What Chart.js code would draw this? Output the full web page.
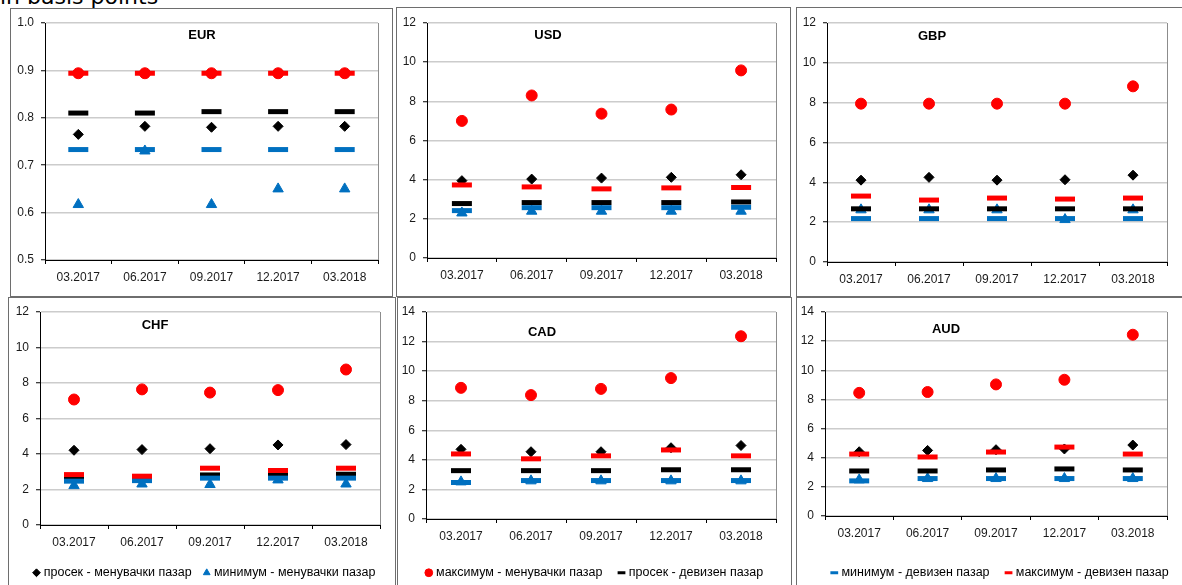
<!DOCTYPE html>
<html><head><meta charset="utf-8">
<script src="https://cdn.jsdelivr.net/npm/chart.js@4/dist/chart.umd.min.js"></script>
<style>
html,body{margin:0;padding:0;background:#fff;width:1182px;height:585px;overflow:hidden;position:relative;}
.box{position:absolute;border:1px solid #6e6e6e;box-sizing:border-box;}
canvas{position:absolute;}
.ptitle{position:absolute;font:bold 13px "Liberation Sans",Arial,sans-serif;color:#000;transform:translate(-50%,-50%);white-space:nowrap;}
#units{position:absolute;left:0;top:-14px;font:22px "DejaVu Sans",sans-serif;line-height:22px;color:#000;white-space:nowrap;}
</style></head><body>
<div id="units">in basis points</div>
<script>
// ---------- DATA ----------
const categories = ['03.2017','06.2017','09.2017','12.2017','03.2018'];
const seriesNames = ['просек - менувачки пазар','минимум - менувачки пазар','максимум - менувачки пазар',
                     'просек - девизен пазар','минимум - девизен пазар','максимум - девизен пазар'];

const eurAvgExch = [0.765, 0.782, 0.780, 0.782, 0.782];
const eurMinExch = [0.617, 0.730, 0.617, 0.650, 0.650];
const eurMaxExch = [0.894, 0.894, 0.894, 0.894, 0.894];
const eurAvgFx   = [0.810, 0.810, 0.813, 0.813, 0.813];
const eurMinFx   = [0.733, 0.733, 0.733, 0.733, 0.733];
const eurMaxFx   = [0.894, 0.894, 0.894, 0.894, 0.894];

const usdAvgExch = [3.95, 4.03, 4.08, 4.12, 4.25];
const usdMinExch = [2.30, 2.39, 2.39, 2.39, 2.39];
const usdMaxExch = [7.00, 8.30, 7.37, 7.58, 9.58];
const usdAvgFx   = [2.78, 2.83, 2.83, 2.83, 2.86];
const usdMinFx   = [2.42, 2.57, 2.57, 2.57, 2.59];
const usdMaxFx   = [3.73, 3.63, 3.53, 3.58, 3.60];

const gbpAvgExch = [4.11, 4.25, 4.11, 4.13, 4.36];
const gbpMinExch = [2.62, 2.62, 2.62, 2.13, 2.62];
const gbpMaxExch = [7.95, 7.95, 7.95, 7.95, 8.82];
const gbpAvgFx   = [2.67, 2.67, 2.67, 2.67, 2.67];
const gbpMinFx   = [2.18, 2.18, 2.18, 2.18, 2.18];
const gbpMaxFx   = [3.31, 3.11, 3.21, 3.16, 3.21];

const chfAvgExch = [4.21, 4.25, 4.30, 4.51, 4.53];
const chfMinExch = [2.22, 2.31, 2.28, 2.54, 2.31];
const chfMaxExch = [7.07, 7.64, 7.46, 7.60, 8.76];
const chfAvgFx   = [2.64, 2.62, 2.82, 2.82, 2.86];
const chfMinFx   = [2.47, 2.50, 2.64, 2.64, 2.64];
const chfMaxFx   = [2.84, 2.75, 3.20, 3.07, 3.20];

const cadAvgExch = [4.71, 4.55, 4.55, 4.82, 4.97];
const cadMinExch = [2.51, 2.58, 2.58, 2.58, 2.58];
const cadMaxExch = [8.87, 8.38, 8.80, 9.53, 12.36];
const cadAvgFx   = [3.27, 3.27, 3.27, 3.33, 3.33];
const cadMinFx   = [2.47, 2.60, 2.60, 2.60, 2.60];
const cadMaxFx   = [4.40, 4.07, 4.27, 4.67, 4.27];

const audAvgExch = [4.41, 4.50, 4.55, 4.60, 4.87];
const audMinExch = [2.48, 2.57, 2.57, 2.57, 2.57];
const audMaxExch = [8.45, 8.51, 9.03, 9.35, 12.44];
const audAvgFx   = [3.09, 3.09, 3.16, 3.23, 3.16];
const audMinFx   = [2.41, 2.57, 2.57, 2.57, 2.57];
const audMaxFx   = [4.25, 4.05, 4.39, 4.73, 4.25];

// ---------- STYLES / LAYOUT ----------
const styles = [
  {pointStyle:'rectRot',  color:'#000000', radius:5,   bw:1},
  {pointStyle:'triangle', color:'#0070C0', radius:6,   bw:1},
  {pointStyle:'circle',   color:'#FF0000', radius:5.5, bw:1},
  {pointStyle:'line',     color:'#000000', radius:10,  bw:5},
  {pointStyle:'line',     color:'#0070C0', radius:10,  bw:5},
  {pointStyle:'line',     color:'#FF0000', radius:10,  bw:5}
];

const panels = [
  {name:'EUR', series:[eurAvgExch,eurMinExch,eurMaxExch,eurAvgFx,eurMinFx,eurMaxFx], min:0.5, max:1.0, step:0.1, dec:1,
   frame:[10,8,383,289], canvas:[10,8,383,289], pad:{top:11,right:8}, yW:35, xH:37, legend:null, lp:10, shift:0, title:[202,34]},
  {name:'USD', series:[usdAvgExch,usdMinExch,usdMaxExch,usdAvgFx,usdMinFx,usdMaxFx], min:0, max:12, step:2, dec:0,
   frame:[396,7,395,290], canvas:[396,8,395,289], pad:{top:11,right:6}, yW:31, xH:39, legend:null, lp:10, shift:0, title:[548,34]},
  {name:'GBP', series:[gbpAvgExch,gbpMinExch,gbpMaxExch,gbpAvgFx,gbpMinFx,gbpMaxFx], min:0, max:12, step:2, dec:0,
   frame:[796,7,390,290], canvas:[796,8,386,289], pad:{top:11,right:2}, yW:31, xH:35, legend:null, lp:10, shift:0, title:[932,35]},
  {name:'CHF', series:[chfAvgExch,chfMinExch,chfMaxExch,chfAvgFx,chfMinFx,chfMaxFx], min:0, max:12, step:2, dec:0,
   frame:[8,297,388,292], canvas:[8,297,387,292], pad:{top:12,right:10}, yW:32, xH:27.5, legend:[0,1], lp:14, shift:9, title:[155,324]},
  {name:'CAD', series:[cadAvgExch,cadMinExch,cadMaxExch,cadAvgFx,cadMinFx,cadMaxFx], min:0, max:14, step:2, dec:0,
   frame:[397,297,395,292], canvas:[397,297,394,292], pad:{top:12,right:9}, yW:29, xH:29.5, legend:[2,3], lp:18, shift:6, title:[542,331]},
  {name:'AUD', series:[audAvgExch,audMinExch,audMaxExch,audAvgFx,audMinFx,audMaxFx], min:0, max:14, step:2, dec:0,
   frame:[796,297,390,292], canvas:[796,297,386,292], pad:{top:12,right:2}, yW:29, xH:32.5, legend:[4,5], lp:18, shift:13, title:[946,328]}
];

Chart.defaults.font.family = '"Liberation Sans", Arial, sans-serif';
Chart.defaults.font.size = 12;
Chart.defaults.color = '#1a1a1a';

const rightEdge = {
  id:'rightEdge',
  beforeDatasetsDraw(chart){
    const {ctx, chartArea:a} = chart;
    ctx.save();
    ctx.strokeStyle = '#8c8c8c'; ctx.lineWidth = 1;
    const x = Math.round(a.right) + 0.5;
    ctx.beginPath(); ctx.moveTo(x, a.top); ctx.lineTo(x, a.bottom); ctx.stroke();
    ctx.restore();
  }
};

const legendShift = {
  id:'legendShift',
  afterLayout(chart, args, opts){
    const lg = chart.legend;
    if (lg && opts && opts.dx) { lg.left += opts.dx; lg.right += opts.dx; }
  }
};

panels.forEach(p => {
  const fr = document.createElement('div');
  fr.className = 'box';
  fr.style.left = p.frame[0]+'px'; fr.style.top = p.frame[1]+'px';
  fr.style.width = p.frame[2]+'px'; fr.style.height = p.frame[3]+'px';
  document.body.appendChild(fr);
});

panels.forEach(p => {
  const cv = document.createElement('canvas');
  cv.width = p.canvas[2]; cv.height = p.canvas[3];
  cv.style.left = p.canvas[0]+'px'; cv.style.top = p.canvas[1]+'px';
  cv.style.width = p.canvas[2]+'px'; cv.style.height = p.canvas[3]+'px';
  document.body.appendChild(cv);

  const datasets = p.series.map((vals, i) => {
    const s = styles[i];
    return {
      label: seriesNames[i],
      data: vals,
      showLine: false,
      order: 5 - i,
      pointStyle: s.pointStyle,
      pointRadius: s.radius,
      pointHoverRadius: s.radius,
      pointBorderWidth: s.bw,
      pointBackgroundColor: s.color,
      pointBorderColor: s.color,
      backgroundColor: s.color,
      borderColor: s.color
    };
  });

  new Chart(cv, {
    type: 'line',
    data: { labels: categories, datasets },
    plugins: [rightEdge, legendShift],
    options: {
      responsive: false,
      animation: false,
      devicePixelRatio: 1,
      layout: { padding: { top: p.pad.top, right: p.pad.right, left: 0, bottom: 0 } },
      plugins: {
        legendShift: { dx: p.shift },
        tooltip: { enabled: false },
        title: { display: false },
        legend: {
          display: !!p.legend,
          position: 'bottom',
          labels: {
            usePointStyle: true,
            boxWidth: 2,
            boxHeight: 5.5,
            padding: p.lp,
            color: '#000',
            font: { size: 12.5 },
            filter: (item) => p.legend ? p.legend.includes(item.datasetIndex) : false,
            sort: (a, b) => a.datasetIndex - b.datasetIndex,
            generateLabels: (chart) => {
              const items = Chart.defaults.plugins.legend.labels.generateLabels(chart);
              items.forEach(it => {
                const st = styles[it.datasetIndex];
                it.lineWidth = st.pointStyle === 'line' ? 3 : 1;
                it.strokeStyle = st.color;
                it.fillStyle = st.color;
              });
              return items;
            }
          }
        }
      },
      scales: {
        x: {
          type: 'category',
          offset: true,
          afterFit: (s) => { s.height = p.xH; },
          grid: { offset: true, drawOnChartArea: false, drawTicks: true, tickLength: 4, color: '#000', tickColor: '#000' },
          border: { display: true, color: '#000', width: 1 },
          ticks: { padding: 6, maxRotation: 0, autoSkip: false, color: '#1a1a1a' }
        },
        y: {
          min: p.min, max: p.max,
          afterFit: (s) => { s.width = p.yW; },
          grid: { color: '#cccccc', lineWidth: 1.5, drawTicks: true, tickLength: 4, tickColor: '#000', tickWidth: 1 },
          border: { display: true, color: '#000', width: 1 },
          ticks: { stepSize: p.step, padding: 7, color: '#1a1a1a',
                   callback: (v) => Number(v).toFixed(p.dec) }
        }
      }
    }
  });

  const t = document.createElement('div');
  t.className = 'ptitle';
  t.textContent = p.name;
  t.style.left = p.title[0]+'px'; t.style.top = p.title[1]+'px';
  document.body.appendChild(t);
});
</script>
</body></html>
